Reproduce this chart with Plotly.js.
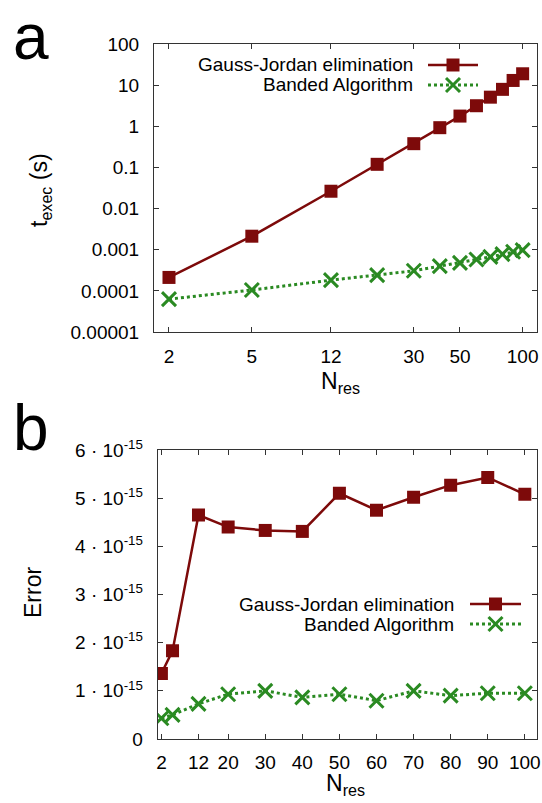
<!DOCTYPE html>
<html><head><meta charset="utf-8">
<script src="https://cdn.plot.ly/plotly-3.0.1.min.js"></script>
<style>html,body{margin:0;padding:0;background:#fff}#chart{width:542px;height:803px}</style>
</head><body><div id="chart"></div>
<script>
// ---- data ----
const nresTime = [2,5,12,20,30,40,50,60,70,80,90,100];
const timeGaussJordan = [0.000212,0.00213,0.0264,0.119,0.378,0.925,1.77,3.16,5.1,7.9,13,18.9];
const timeBanded = [0.000063,0.000105,0.000182,0.000242,0.000307,0.000399,0.00048,0.00058,0.00067,0.00078,0.00089,0.000975];
const nresErr = [2,5,12,20,30,40,50,60,70,80,90,100];
const errGaussJordan = [1.36e-15,1.83e-15,4.65e-15,4.40e-15,4.33e-15,4.31e-15,5.10e-15,4.75e-15,5.02e-15,5.27e-15,5.43e-15,5.08e-15];
const errBanded = [0.43e-15,0.50e-15,0.73e-15,0.93e-15,1.0e-15,0.865e-15,0.93e-15,0.795e-15,1.0e-15,0.90e-15,0.95e-15,0.95e-15];
const seriesNames = ["Gauss-Jordan elimination","Banded Algorithm"];
const timeXTicks = [2,5,12,30,50,100];
const timeYTicks = [100,10,1,0.1,0.01,0.001,0.0001,0.00001];
const timeYLabels = ["100","10","1","0.1","0.01","0.001","0.0001","0.00001"];
const errXTicks = [2,12,20,30,40,50,60,70,80,90,100];
const errYTicks = [0,1e-15,2e-15,3e-15,4e-15,5e-15,6e-15];
const errYLabels = ["0","1 · 10<sup>-15</sup>","2 · 10<sup>-15</sup>","3 · 10<sup>-15</sup>","4 · 10<sup>-15</sup>","5 · 10<sup>-15</sup>","6 · 10<sup>-15</sup>"];

// ---- styles ----
const W = 542, H = 803;
const RED = "#7d0a0a", GREEN = "#2a8a22";
const FONT = "Liberation Sans, Arial, sans-serif";
const px = v => v / W, py = v => 1 - v / H;

const gj = (x, y, xa, ya) => ({x, y, xaxis: xa, yaxis: ya, type: "scatter", mode: "lines+markers",
  line: {color: RED, width: 2.5}, marker: {symbol: "square", size: 13, color: RED}, showlegend: false, name: seriesNames[0]});
const bd = (x, y, xa, ya) => ({x, y, xaxis: xa, yaxis: ya, type: "scatter", mode: "lines+markers",
  line: {color: GREEN, width: 3, dash: "dot"}, marker: {symbol: "x-thin", size: 14, line: {color: GREEN, width: 3}}, showlegend: false, name: seriesNames[1]});

const traces = [
  gj(nresTime, timeGaussJordan, "x", "y"),
  bd(nresTime, timeBanded, "x", "y"),
  gj(nresErr, errGaussJordan, "x2", "y2"),
  bd(nresErr, errBanded, "x2", "y2")
];

const axisCommon = {showline: true, linecolor: "#333", linewidth: 1, mirror: "allticks", ticks: "inside",
  ticklen: 5, tickcolor: "#333", showgrid: false, zeroline: false, tickfont: {family: FONT, size: 19, color: "#000"}};

// legend (drawn manually: text left, sample right)
function legendItems(textRight, sx0, sx1, yA, yB) {
  const ann = [], shp = [];
  ann.push({xref: "paper", yref: "paper", x: px(textRight), y: py(yA), xanchor: "right", yanchor: "middle", showarrow: false,
    text: seriesNames[0], font: {family: FONT, size: 19, color: "#000"}});
  ann.push({xref: "paper", yref: "paper", x: px(textRight), y: py(yB), xanchor: "right", yanchor: "middle", showarrow: false,
    text: seriesNames[1], font: {family: FONT, size: 19, color: "#000"}});
  const mx = (sx0 + sx1) / 2;
  shp.push({type: "line", xref: "paper", yref: "paper", x0: px(sx0), x1: px(sx1), y0: py(yA), y1: py(yA), line: {color: RED, width: 2.5}});
  shp.push({type: "rect", xref: "paper", yref: "paper", x0: px(mx - 6.5), x1: px(mx + 6.5), y0: py(yA - 6.5), y1: py(yA + 6.5), fillcolor: RED, line: {width: 0}});
  shp.push({type: "line", xref: "paper", yref: "paper", x0: px(sx0), x1: px(sx1), y0: py(yB), y1: py(yB), line: {color: GREEN, width: 3, dash: "dot"}});
  shp.push({type: "line", xref: "paper", yref: "paper", x0: px(mx - 7), x1: px(mx + 7), y0: py(yB - 7), y1: py(yB + 7), line: {color: GREEN, width: 3}});
  shp.push({type: "line", xref: "paper", yref: "paper", x0: px(mx - 7), x1: px(mx + 7), y0: py(yB + 7), y1: py(yB - 7), line: {color: GREEN, width: 3}});
  return {ann, shp};
}
const L1 = legendItems(415, 428, 478, 65, 85);
const L2 = legendItems(456, 470, 521, 604, 624);

const titleFont = {family: FONT, size: 23, color: "#000"};
const annotations = [
  {xref: "paper", yref: "paper", x: px(31), y: 1, text: "a", showarrow: false, xanchor: "center", yanchor: "top", borderpad: 0, font: {family: FONT, size: 64, color: "#000"}},
  {xref: "paper", yref: "paper", x: px(31), y: py(428), text: "b", showarrow: false, xanchor: "center", yanchor: "middle", font: {family: FONT, size: 64, color: "#000"}},
  {xref: "paper", yref: "paper", x: px(40), y: py(190), text: "t<sub>exec</sub> (s)", textangle: -90, showarrow: false, xanchor: "center", yanchor: "middle", font: titleFont},
  {xref: "paper", yref: "paper", x: px(340), y: py(382), text: "N<sub>res</sub>", showarrow: false, xanchor: "center", yanchor: "middle", font: titleFont},
  {xref: "paper", yref: "paper", x: px(33), y: py(593), text: "Error", textangle: -90, showarrow: false, xanchor: "center", yanchor: "middle", font: titleFont},
  {xref: "paper", yref: "paper", x: px(345), y: py(784), text: "N<sub>res</sub>", showarrow: false, xanchor: "center", yanchor: "middle", font: titleFont}
].concat(L1.ann, L2.ann);

const layout = {
  width: W, height: H, margin: {l: 0, r: 0, t: 0, b: 0}, paper_bgcolor: "#fff", plot_bgcolor: "#fff",
  font: {family: FONT},
  xaxis: Object.assign({}, axisCommon, {type: "log", domain: [px(154), px(537)], range: [0.229, 2.069], anchor: "y",
    tickvals: timeXTicks, ticktext: timeXTicks.map(String), ticklabelstandoff: 7}),
  yaxis: Object.assign({}, axisCommon, {type: "log", domain: [py(332), py(44)], range: [-5, 2], anchor: "x",
    tickvals: timeYTicks, ticktext: timeYLabels, ticklabelstandoff: 10}),
  xaxis2: Object.assign({}, axisCommon, {type: "linear", domain: [px(157.7), px(536.7)], range: [1, 103.2], anchor: "y2",
    tickvals: errXTicks, ticktext: errXTicks.map(String), ticklabelstandoff: 6}),
  yaxis2: Object.assign({}, axisCommon, {type: "linear", domain: [py(739), py(450)], range: [0, 6e-15], anchor: "x2",
    tickvals: errYTicks, ticktext: errYLabels, ticklabelstandoff: 10}),
  shapes: L1.shp.concat(L2.shp),
  annotations
};
Plotly.newPlot("chart", traces, layout, {displayModeBar: false, staticPlot: true});
</script></body></html>
